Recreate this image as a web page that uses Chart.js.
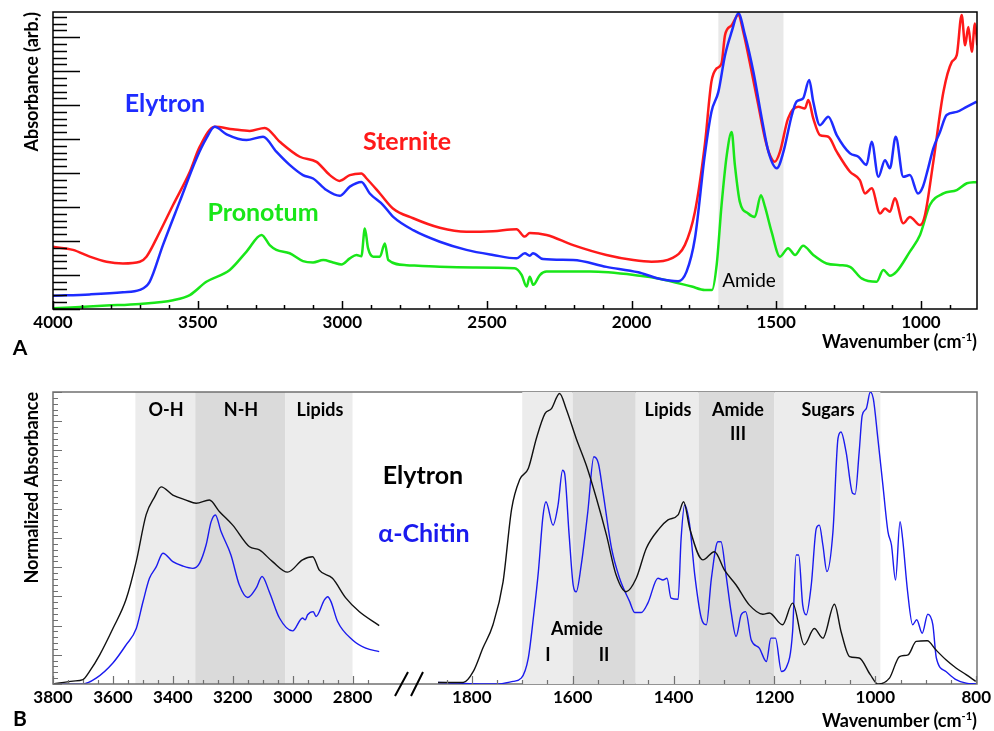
<!DOCTYPE html>
<html>
<head>
<meta charset="utf-8">
<script src="https://cdn.jsdelivr.net/npm/chart.js@4.4.0/dist/chart.umd.min.js"></script>
<style>
  body { margin: 0; background: #fff; }
  #wrap { position: relative; width: 994px; height: 731px; overflow: hidden; font-family: Lato, sans-serif; }
  canvas { position: absolute; left: 0; }
  .lbl { position: absolute; transform: translate(-50%, -50%); white-space: nowrap; font-weight: bold; line-height: 1; }
  .axt { position: absolute; right: 17px; transform: translateY(-50%); white-space: nowrap; font-weight: bold; font-size: 18px; line-height: 1; }
  .axt sup { font-size: 11px; line-height: 0; }
</style>
</head>
<body>
<div id="wrap">
  <canvas id="chartA" width="994" height="360" style="top:0;width:994px;height:360px"></canvas>
  <canvas id="chartBL" width="994" height="371" style="top:360px;width:994px;height:371px"></canvas>
  <canvas id="chartBR" width="994" height="371" style="top:360px;width:994px;height:371px"></canvas>

  <div class="lbl" style="left:165px;top:102px;font-size:25px;color:#1e2cff">Elytron</div>
  <div class="lbl" style="left:407px;top:140px;font-size:25px;color:#ff1a1a">Sternite</div>
  <div class="lbl" style="left:263px;top:211px;font-size:25px;color:#19e619">Pronotum</div>
  <div class="lbl" style="left:749px;top:279px;font-size:19px;font-weight:normal">Amide</div>
  <div class="lbl" style="left:20px;top:346px;font-size:21px">A</div>
  <div class="axt" style="top:341px">Wavenumber (cm<sup>-1</sup>)</div>

  <div class="lbl" style="left:423px;top:474px;font-size:25px">Elytron</div>
  <div class="lbl" style="left:424px;top:532px;font-size:25px;color:#1a1aee">α-Chitin</div>
  <div class="lbl" style="left:166px;top:409px;font-size:18px">O-H</div>
  <div class="lbl" style="left:241px;top:409px;font-size:18px">N-H</div>
  <div class="lbl" style="left:320px;top:409px;font-size:18px">Lipids</div>
  <div class="lbl" style="left:668px;top:409px;font-size:18px">Lipids</div>
  <div class="lbl" style="left:738px;top:409px;font-size:18px">Amide</div>
  <div class="lbl" style="left:738px;top:433px;font-size:18px">III</div>
  <div class="lbl" style="left:828px;top:409px;font-size:18px">Sugars</div>
  <div class="lbl" style="left:577px;top:628px;font-size:18px">Amide</div>
  <div class="lbl" style="left:548px;top:654px;font-size:18px">I</div>
  <div class="lbl" style="left:604px;top:654px;font-size:18px">II</div>
  <div class="lbl" style="left:20px;top:717px;font-size:21px">B</div>
  <div class="axt" style="top:720px">Wavenumber (cm<sup>-1</sup>)</div>
</div>

<script>
// ---- panel A data (absorbance, arb. units) ----
const sterniteWn = [4000, 3931, 3873, 3815, 3758, 3700, 3677, 3642, 3585, 3527,
  3493, 3441, 3378, 3320, 3268, 3216, 3147, 3089, 3043, 3009,
  2974, 2934, 2916, 2870, 2825, 2755, 2663, 2571, 2479, 2398,
  2369, 2352, 2294, 2202, 2087, 1994, 1931, 1862, 1816, 1781,
  1747, 1724, 1706, 1689, 1677, 1654, 1631, 1614, 1585, 1562,
  1539, 1522, 1505, 1487, 1459, 1424, 1401, 1389, 1372, 1349,
  1320, 1291, 1245, 1211, 1193, 1170, 1141, 1124, 1107, 1090,
  1061, 1038, 1003, 986, 957, 922, 893, 876, 859, 847,
  836, 824, 813, 805];
const sterniteAbs = [1.83, 1.74, 1.54, 1.39, 1.34, 1.39, 1.54, 2.08, 3.06, 4.04,
  4.77, 5.36, 5.29, 5.24, 5.33, 4.92, 4.48, 4.33, 3.94, 3.77,
  3.94, 3.99, 3.84, 3.40, 2.96, 2.67, 2.39, 2.27, 2.29, 2.35,
  2.13, 2.24, 2.18, 1.88, 1.59, 1.44, 1.39, 1.49, 1.88, 2.86,
  4.82, 6.69, 7.08, 7.23, 8.06, 8.35, 8.65, 8.16, 6.98, 6.0,
  5.02, 4.53, 4.33, 4.63, 5.61, 5.95, 5.90, 6.15, 5.61, 5.12,
  5.07, 4.63, 4.04, 3.79, 3.40, 3.55, 2.81, 2.96, 2.86, 3.26,
  2.52, 2.71, 2.47, 2.76, 4.33, 6.39, 7.27, 7.47, 8.65, 7.76,
  8.30, 7.57, 8.40, 7.76];

const elytronWn = [4000, 3873, 3758, 3700, 3666, 3620, 3562, 3504, 3470, 3441,
  3400, 3331, 3274, 3228, 3182, 3136, 3101, 3055, 3009, 2974,
  2934, 2905, 2859, 2824, 2755, 2663, 2571, 2479, 2398, 2369,
  2352, 2341, 2306, 2202, 2087, 1977, 1908, 1839, 1810, 1781,
  1747, 1724, 1700, 1677, 1654, 1631, 1608, 1579, 1550, 1527,
  1498, 1475, 1446, 1430, 1407, 1386, 1372, 1349, 1320, 1291,
  1245, 1216, 1188, 1170, 1147, 1124, 1107, 1087, 1061, 1038,
  1010, 993, 975, 957, 934, 911, 876, 842, 807];
const elytronAbs = [0.39, 0.43, 0.49, 0.56, 0.80, 1.88, 3.16, 4.43, 5.02, 5.36,
  5.14, 4.97, 5.07, 4.63, 4.24, 3.94, 3.84, 3.50, 3.33, 3.60,
  3.74, 3.40, 3.06, 2.71, 2.32, 1.98, 1.74, 1.59, 1.49, 1.64,
  1.57, 1.64, 1.47, 1.44, 1.24, 1.08, 0.90, 0.82, 1.10, 2.08,
  4.53, 5.80, 6.39, 7.47, 8.16, 8.70, 8.06, 6.98, 5.61, 4.63,
  4.14, 4.63, 5.71, 6.10, 6.20, 6.74, 6.10, 5.41, 5.66, 5.12,
  4.58, 4.48, 4.24, 4.92, 3.89, 4.38, 4.14, 5.07, 3.89, 3.94,
  3.40, 3.60, 4.14, 4.73, 5.21, 5.71, 5.80, 5.95, 6.10];

const pronotumWn = [4000, 3815, 3700, 3585, 3527, 3470, 3389, 3331, 3279, 3251,
  3228, 3182, 3136, 3101, 3066, 3032, 3003, 2974, 2951, 2934,
  2922, 2911, 2893, 2870, 2853, 2841, 2778, 2663, 2548, 2404,
  2380, 2363, 2352, 2340, 2317, 2294, 2144, 1972, 1908, 1792,
  1747, 1722, 1706, 1689, 1671, 1654, 1643, 1626, 1597, 1574,
  1553, 1539, 1516, 1487, 1459, 1435, 1407, 1372, 1326, 1280,
  1245, 1205, 1153, 1130, 1107, 1084, 1038, 1003, 969, 922,
  876, 841, 807];
const pronotumAbs = [0.02, 0.10, 0.15, 0.26, 0.41, 0.80, 1.15, 1.69, 2.18, 1.88,
  1.74, 1.64, 1.41, 1.37, 1.44, 1.37, 1.31, 1.49, 1.59, 1.55,
  2.37, 1.79, 1.54, 1.54, 1.93, 1.44, 1.29, 1.24, 1.22, 1.20,
  1.0, 0.66, 0.95, 0.71, 1.0, 1.10, 1.10, 0.98, 0.90, 0.66,
  0.56, 0.56, 1.29, 3.06, 4.53, 5.21, 4.24, 3.16, 2.81, 2.71,
  3.35, 3.01, 2.27, 1.54, 1.79, 1.59, 1.86, 1.59, 1.34, 1.29,
  1.24, 0.90, 0.80, 1.15, 0.98, 1.10, 1.69, 2.18, 3.06, 3.40,
  3.50, 3.70, 3.74];

const xLabelsA = [4000, 3500, 3000, 2500, 2000, 1500, 1000];
const amideBandA = [1700, 1475];

// ---- panel B data (normalized absorbance) ----
const elyHighWn = [3800, 3733, 3700, 3678, 3644, 3600, 3556, 3522, 3489, 3461,
  3439, 3400, 3356, 3322, 3278, 3244, 3200, 3144, 3111, 3067,
  3017, 2967, 2933, 2911, 2867, 2822, 2778, 2711];
const elyHighAbs = [0, 0.01, 0.015, 0.043, 0.10, 0.19, 0.29, 0.42, 0.58, 0.64,
  0.675, 0.647, 0.63, 0.619, 0.63, 0.59, 0.544, 0.47, 0.459, 0.419,
  0.383, 0.425, 0.436, 0.39, 0.362, 0.294, 0.248, 0.20];

const chitinHighWn = [3800, 3700, 3656, 3600, 3556, 3522, 3500, 3478, 3456, 3433,
  3400, 3367, 3333, 3311, 3289, 3272, 3258, 3239, 3206, 3178,
  3150, 3122, 3102, 3078, 3044, 3000, 2967, 2958, 2950, 2931,
  2922, 2894, 2883, 2872, 2850, 2800, 2756, 2711];
const chitinHighAbs = [0, 0, 0.02, 0.072, 0.134, 0.19, 0.28, 0.362, 0.40, 0.448,
  0.419, 0.404, 0.396, 0.413, 0.476, 0.556, 0.579, 0.522, 0.442, 0.339,
  0.296, 0.328, 0.368, 0.316, 0.226, 0.182, 0.226, 0.22, 0.237, 0.248,
  0.231, 0.288, 0.299, 0.282, 0.214, 0.151, 0.123, 0.111];

const elyLowWn = [1867, 1817, 1797, 1778, 1758, 1738, 1721, 1705, 1688, 1672,
  1655, 1642, 1626, 1613, 1593, 1573, 1553, 1533, 1514, 1494,
  1474, 1454, 1428, 1411, 1391, 1380, 1368, 1342, 1319, 1299,
  1276, 1250, 1223, 1210, 1184, 1164, 1141, 1121, 1104, 1081,
  1068, 1051, 1032, 1010, 995, 972, 952, 935, 919, 897,
  880, 860, 840, 820, 801];
const elyLowAbs = [0.005, 0.005, 0.043, 0.123, 0.203, 0.35, 0.6, 0.70, 0.738, 0.841,
  0.926, 0.943, 0.995, 0.943, 0.841, 0.749, 0.636, 0.51, 0.374, 0.316,
  0.362, 0.465, 0.533, 0.562, 0.579, 0.624, 0.533, 0.425, 0.453, 0.39,
  0.339, 0.271, 0.239, 0.243, 0.203, 0.277, 0.134, 0.19, 0.157, 0.273,
  0.18, 0.094, 0.089, 0.032, 0, 0.02, 0.094, 0.10, 0.146, 0.148,
  0.117, 0.083, 0.055, 0.032, 0.009];

const chitinLowWn = [1867, 1751, 1718, 1702, 1688, 1678, 1668, 1659, 1653, 1639,
  1629, 1620, 1616, 1607, 1599, 1593, 1583, 1570, 1558, 1549,
  1540, 1523, 1507, 1487, 1477, 1464, 1451, 1431, 1421, 1413,
  1405, 1391, 1385, 1378, 1368, 1358, 1345, 1335, 1325, 1312,
  1306, 1296, 1286, 1276, 1266, 1257, 1246, 1230, 1216, 1207,
  1198, 1186, 1177, 1164, 1157, 1152, 1144, 1137, 1127, 1117,
  1111, 1104, 1096, 1084, 1074, 1068, 1058, 1045, 1040, 1032,
  1026, 1018, 1010, 1004, 995, 985, 975, 968, 960, 951,
  946, 936, 926, 918, 907, 896, 886, 879, 860, 840,
  820, 800];
const chitinLowAbs = [0.005, 0, 0.009, 0.02, 0.089, 0.226, 0.385, 0.573, 0.624, 0.544,
  0.613, 0.732, 0.721, 0.51, 0.339, 0.316, 0.408, 0.59, 0.778, 0.755,
  0.658, 0.465, 0.362, 0.282, 0.245, 0.245, 0.277, 0.362, 0.356, 0.362,
  0.294, 0.29, 0.499, 0.613, 0.544, 0.374, 0.226, 0.203, 0.362, 0.487,
  0.487, 0.374, 0.248, 0.163, 0.237, 0.248, 0.151, 0.123, 0.077, 0.157,
  0.157, 0.043, 0.055, 0.18, 0.442, 0.442, 0.271, 0.237, 0.339, 0.533,
  0.544, 0.476, 0.385, 0.522, 0.841, 0.863, 0.795, 0.653, 0.65, 0.795,
  0.92, 0.943, 1.0, 0.977, 0.841, 0.681, 0.522, 0.476, 0.356, 0.556,
  0.499, 0.316, 0.203, 0.22, 0.174, 0.239, 0.203, 0.089, 0.043, 0.015,
  0.003, 0];

const xLabelsHigh = [3800, 3600, 3400, 3200, 3000, 2800];
const xLabelsLow = [1800, 1600, 1400, 1200, 1000, 800];
// band edges, shading alternates light / dark
const bandEdgesHigh = [3525, 3325, 3025, 2800];
const bandEdgesLow = [1700, 1600, 1475, 1350, 1200, 990];

// ---- helpers ----
const PLOT_RIGHT = 977;
Chart.defaults.font.family = "Lato, sans-serif";
Chart.defaults.color = "#000";

const toPoints = (wn, vals) => wn.map((w, i) => ({ x: w, y: vals[i] }));

const spectrum = (label, wn, vals, color, width) => ({
  label: label,
  data: toPoints(wn, vals),
  borderColor: color,
  borderWidth: width,
  pointRadius: 0,
  fill: false,
  cubicInterpolationMode: "monotone",
});

// shaded regions under the curves
function bandsPlugin(edges, shades) {
  return {
    id: "bands",
    beforeDatasetsDraw(chart) {
      const { ctx, chartArea, scales } = chart;
      for (let i = 0; i < edges.length - 1; i++) {
        const x1 = scales.x.getPixelForValue(edges[i]);
        const x2 = scales.x.getPixelForValue(edges[i + 1]);
        ctx.fillStyle = shades[i % shades.length];
        ctx.fillRect(Math.min(x1, x2), chartArea.top, Math.abs(x2 - x1), chartArea.bottom - chartArea.top);
      }
    },
  };
}

// frame + inward tick marks
function framePlugin(cfg) {
  return {
    id: "frame",
    afterDatasetsDraw(chart) {
      const { ctx, chartArea: a, scales } = chart;
      ctx.save();
      ctx.strokeStyle = cfg.color;
      ctx.lineWidth = cfg.tickWidth;
      ctx.beginPath();
      if (cfg.yStep) {
        let i = 0;
        for (let v = 0; v <= scales.y.max + 1e-9; v = ++i * cfg.yStep) {
          const y = Math.round(scales.y.getPixelForValue(v)) + 0.5;
          const len = i % cfg.yEvery === 0 ? cfg.yMajor : cfg.yMinor;
          ctx.moveTo(a.left, y);
          ctx.lineTo(a.left + len, y);
        }
      }
      for (let v = cfg.xFrom; v >= scales.x.min; v -= cfg.xStep) {
        const x = Math.round(scales.x.getPixelForValue(v)) + 0.5;
        const len = v % cfg.xEvery === 0 ? cfg.xMajor : cfg.xMinor;
        ctx.moveTo(x, a.bottom);
        ctx.lineTo(x, a.bottom - len);
      }
      ctx.stroke();
      if (cfg.box) {
        ctx.lineWidth = cfg.boxWidth;
        ctx.strokeRect(a.left, a.top, PLOT_RIGHT - a.left, a.bottom - a.top);
      }
      if (cfg.breakMarks) {
        ctx.strokeStyle = "#000";
        ctx.lineWidth = 2;
        ctx.beginPath();
        ctx.moveTo(395, a.bottom + 12); ctx.lineTo(408, a.bottom - 12);
        ctx.moveTo(411, a.bottom + 12); ctx.lineTo(423, a.bottom - 12);
        ctx.stroke();
      }
      ctx.restore();
    },
  };
}

const baseOptions = {
  responsive: false,
  animation: false,
  devicePixelRatio: 1,
  plugins: { legend: { display: false }, tooltip: { enabled: false } },
};

function xAxis(min, max, labels, height) {
  return {
    type: "linear",
    reverse: true,
    min: min,
    max: max,
    afterBuildTicks: (s) => { s.ticks = labels.map((v) => ({ value: v })); },
    afterFit: (s) => { s.height = height; },
    grid: { display: false, drawTicks: false },
    border: { display: false },
    ticks: {
      autoSkip: false,
      maxRotation: 0,
      padding: 3,
      color: "#000",
      font: { size: 17, weight: "bold" },
      callback: (v) => String(v),
    },
  };
}

function yAxis(max, title) {
  return {
    min: 0,
    max: max,
    afterFit: (s) => { s.width = 53; },
    ticks: { display: false },
    grid: { display: false, drawTicks: false },
    border: { display: false },
    title: {
      display: true,
      text: title,
      align: "end",
      color: "#000",
      font: { size: 18, weight: "bold" },
      padding: { top: 21, bottom: 0 },
    },
  };
}

// ---- panel A ----
new Chart(document.getElementById("chartA"), {
  type: "line",
  data: {
    datasets: [
      spectrum("Elytron", elytronWn, elytronAbs, "#1e2cff", 2.5),
      spectrum("Sternite", sterniteWn, sterniteAbs, "#ff1a1a", 2.5),
      spectrum("Pronotum", pronotumWn, pronotumAbs, "#19e619", 2.5),
    ],
  },
  options: {
    ...baseOptions,
    layout: { padding: { top: 12, right: 994 - PLOT_RIGHT, left: 0, bottom: 0 } },
    scales: {
      x: xAxis(806, 4000, xLabelsA, 51),
      y: yAxis(8.74, "Absorbance (arb.)"),
    },
  },
  plugins: [
    bandsPlugin(amideBandA, ["#e8e8e8"]),
    framePlugin({
      color: "#000", tickWidth: 1.5, box: true, boxWidth: 1.5,
      yStep: 0.2, yEvery: 5, yMajor: 27, yMinor: 14,
      xFrom: 4000, xStep: 100, xEvery: 500, xMajor: 8, xMinor: 4,
    }),
  ],
});

// ---- panel B, high wavenumber part ----
new Chart(document.getElementById("chartBL"), {
  type: "line",
  data: {
    datasets: [
      spectrum("Elytron", elyHighWn, elyHighAbs, "#111111", 1.4),
      spectrum("α-Chitin", chitinHighWn, chitinHighAbs, "#1a1aee", 1.4),
    ],
  },
  options: {
    ...baseOptions,
    layout: { padding: { top: 32, right: 994 - 381, left: 0, bottom: 0 } },
    scales: {
      x: xAxis(2705, 3800, xLabelsHigh, 47),
      y: yAxis(1, "Normalized Absorbance"),
    },
  },
  plugins: [
    bandsPlugin(bandEdgesHigh, ["#ececec", "#dadada"]),
    framePlugin({
      color: "#707070", tickWidth: 1.2, box: true, boxWidth: 1.5, breakMarks: true,
      yStep: 0.02, yEvery: 5, yMajor: 9, yMinor: 5,
      xFrom: 3800, xStep: 50, xEvery: 200, xMajor: 8, xMinor: 4,
    }),
  ],
});

// ---- panel B, fingerprint part ----
new Chart(document.getElementById("chartBR"), {
  type: "line",
  data: {
    datasets: [
      spectrum("Elytron", elyLowWn, elyLowAbs, "#111111", 1.4),
      spectrum("α-Chitin", chitinLowWn, chitinLowAbs, "#1a1aee", 1.4),
    ],
  },
  options: {
    ...baseOptions,
    layout: { padding: { top: 32, right: 994 - PLOT_RIGHT, left: 438, bottom: 0 } },
    scales: {
      x: xAxis(800, 1867, xLabelsLow, 47),
      y: { display: false, min: 0, max: 1 },
    },
  },
  plugins: [
    bandsPlugin(bandEdgesLow, ["#ececec", "#dadada"]),
    framePlugin({
      color: "#707070", tickWidth: 1.2, box: false,
      xFrom: 1850, xStep: 50, xEvery: 200, xMajor: 8, xMinor: 4,
    }),
  ],
});
</script>
</body>
</html>
